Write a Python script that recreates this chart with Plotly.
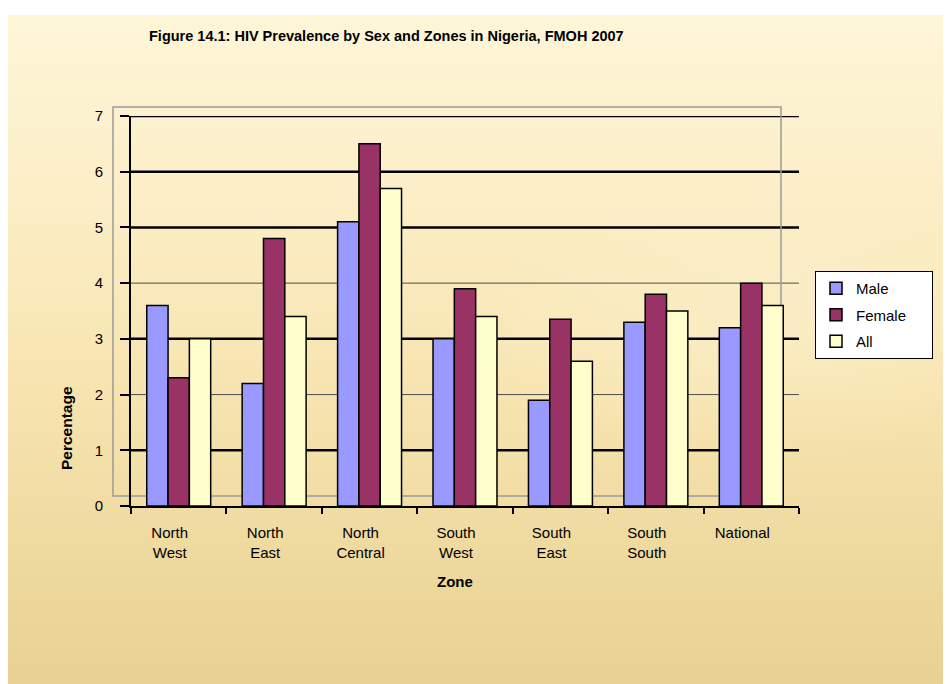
import base64
import plotly.graph_objects as go

zones = ["North<br>West", "North<br>East", "North<br>Central", "South<br>West",
         "South<br>East", "South<br>South", "National"]
male = [3.6, 2.2, 5.1, 3.0, 1.9, 3.3, 3.2]
female = [2.3, 4.8, 6.5, 3.9, 3.35, 3.8, 4.0]
all_ = [3.0, 3.4, 5.7, 3.4, 2.6, 3.5, 3.6]
y_ticks = [0, 1, 2, 3, 4, 5, 6, 7]
major_grid = [1, 3, 5, 6, 7]
minor_grid = [2, 4]

OFF = 8  # page body margin
W, H = 951 - OFF, 684 - OFF
ML, MT = 131 - OFF, 116 - OFF
PW, PH = 668, 390
MR, MB = W - ML - PW, H - MT - PH

svg = f'''<svg xmlns="http://www.w3.org/2000/svg" width="{W}" height="{H}" viewBox="0 0 {W} {H}" preserveAspectRatio="none">
<defs>
<linearGradient id="g" x1="0" y1="0" x2="0" y2="1">
<stop offset="0" stop-color="#FEF6D8"/>
<stop offset="0.25" stop-color="#FCEFC8"/>
<stop offset="0.55" stop-color="#F7E4B0"/>
<stop offset="1" stop-color="#E8D192"/>
</linearGradient>
<radialGradient id="r" cx="0.5" cy="0.5" r="0.5">
<stop offset="0" stop-color="#FFF8DC" stop-opacity="0.35"/>
<stop offset="1" stop-color="#FFF8DC" stop-opacity="0"/>
</radialGradient>
</defs>
<rect x="0" y="0" width="{W}" height="{H}" fill="#FFFFFF"/>
<rect x="0" y="7" width="{W}" height="{H-7}" fill="url(#g)"/>
<ellipse cx="752" cy="322" rx="330" ry="130" fill="url(#r)"/>
</svg>'''
src = "data:image/svg+xml;base64," + base64.b64encode(svg.encode()).decode()

def px_x(p):  # page pixel -> paper
    return (p - OFF - ML) / PW

def px_y(p):
    return (MT + PH - (p - OFF)) / PH

NB = "\u00a0"
fig = go.Figure()
for name, vals, col in [("Male", male, "#9999FF"), ("Female", female, "#993366"), ("All", all_, "#FFFFCC")]:
    fig.add_trace(go.Bar(x=zones, y=vals, name=name + NB * 5, legendgroup=name,
                         marker=dict(color=col, line=dict(color="#000000", width=1.5))))

shapes = []
for v in major_grid:
    shapes.append(dict(type="line", xref="paper", yref="y", x0=0, x1=1, y0=v, y1=v,
                       line=dict(color="#000000", width=2.5), layer="below"))
for v in minor_grid:
    shapes.append(dict(type="line", xref="paper", yref="y", x0=0, x1=1, y0=v, y1=v,
                       line=dict(color="#4d4d4d", width=1), layer="below"))
shapes.append(dict(type="rect", xref="paper", yref="paper",
                   x0=px_x(113), x1=px_x(781), y0=px_y(496), y1=px_y(107),
                   line=dict(color="#9a9a9a", width=1.5), layer="below"))

fig.update_layout(
    width=W, height=H,
    margin=dict(l=ML, r=MR, t=MT, b=MB),
    paper_bgcolor="#FCEFC8", plot_bgcolor="rgba(0,0,0,0)",
    barmode="group", bargap=0.33, bargroupgap=0,
    font=dict(family="Liberation Sans, Arial, sans-serif", size=15, color="#000000"),
    images=[dict(source=src, xref="paper", yref="paper", x=-ML / PW, y=(MT + PH) / PH,
                 sizex=W / PW, sizey=H / PH, xanchor="left", yanchor="top",
                 sizing="stretch", layer="below")],
    shapes=shapes,
    xaxis=dict(type="category", showline=True, linecolor="#000000", linewidth=2,
               ticks="outside", tickson="boundaries", ticklen=6, tickwidth=2,
               tickcolor="#000000", showgrid=False, tickfont=dict(size=15),
               ticklabelstandoff=12, ticklabelshift=-9),
    yaxis=dict(range=[0, 7], tickvals=y_ticks, showgrid=False, zeroline=False,
               showline=True, linecolor="#000000", linewidth=2,
               ticks="outside", ticklen=9, tickwidth=2, tickcolor="#000000",
               tickfont=dict(size=15), ticklabelstandoff=14),
    legend=dict(x=px_x(815), y=px_y(271), xanchor="left", yanchor="top",
                bgcolor="#FFFFFF", bordercolor="#000000", borderwidth=1,
                font=dict(size=15), tracegroupgap=4, traceorder="grouped"),
    annotations=[
        dict(text="<b>Figure 14.1: HIV Prevalence by Sex and Zones in Nigeria, FMOH 2007</b>",
             xref="paper", yref="paper", x=px_x(147), y=px_y(36), xanchor="left",
             yanchor="middle", showarrow=False, font=dict(size=14.5)),
        dict(text="<b>Percentage</b>", xref="paper", yref="paper", x=px_x(66), y=px_y(428),
             xanchor="center", yanchor="middle",
             textangle=-90, showarrow=False, font=dict(size=15.5)),
        dict(text="<b>Zone</b>", xref="paper", yref="paper", x=px_x(455), y=px_y(581),
             xanchor="center", yanchor="middle",
             showarrow=False, font=dict(size=15)),
    ],
)

fig.write_html("out.html")
